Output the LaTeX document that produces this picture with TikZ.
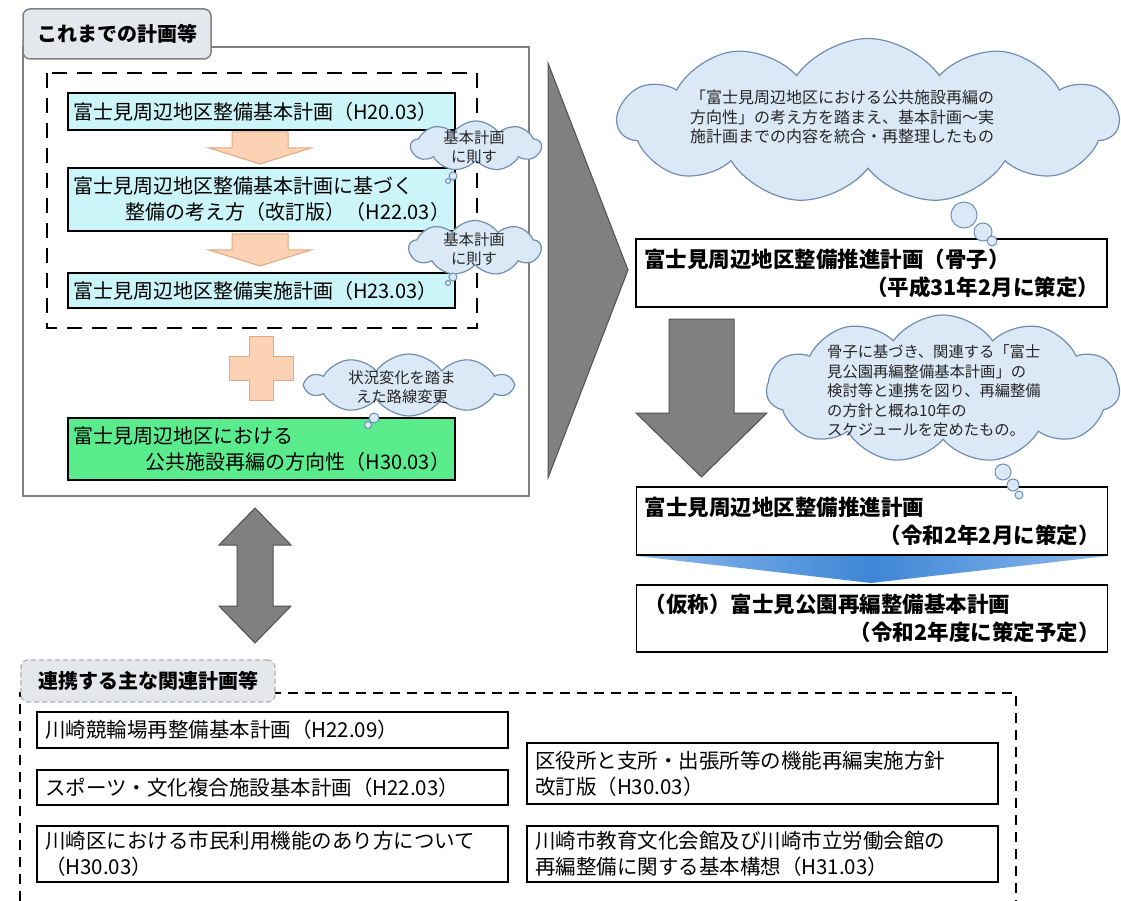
\documentclass[tikz,border=0pt]{standalone}
\usepackage{fontspec}
\newfontfamily\jp{Noto Sans CJK JP}
\usetikzlibrary{shapes.symbols}

\definecolor{cyanfill}{RGB}{204,245,250}
\definecolor{greenfill}{RGB}{90,235,140}
\definecolor{peachfill}{RGB}{251,211,180}
\definecolor{peachline}{RGB}{226,168,128}
\definecolor{cloudfill}{RGB}{219,232,246}
\definecolor{cloudline}{RGB}{112,142,176}
\definecolor{arrowgray}{RGB}{128,128,128}
\definecolor{arrowline}{RGB}{80,80,80}
\definecolor{tabfill}{RGB}{228,232,236}
\definecolor{framegray}{RGB}{128,128,128}
\definecolor{bluedark}{RGB}{62,134,214}
\definecolor{bluelight}{RGB}{140,185,235}

\begin{document}
\begin{tikzpicture}[x=1pt, y=-1pt,
  plan/.style = {draw, line width=1.3pt, inner xsep=5pt, inner ysep=0pt, align=left, text width=377pt, minimum width=387pt, font=\jp\fontsize{20}{26}\selectfont},
  newplan/.style = {draw, line width=1.5pt, fill=white, inner xsep=8pt, inner ysep=0pt, align=left, text width=455pt, minimum width=471pt, font=\jp\bfseries\fontsize{21.5}{28}\selectfont},
  related/.style = {draw, line width=1.3pt, inner xsep=8pt, inner ysep=0pt, align=left, text width=455pt, minimum width=471pt, font=\jp\fontsize{20.5}{26}\selectfont},
  memo/.style = {cloud, cloud puffs=10, cloud puff arc=110, cloud ignores aspect, draw=cloudline, fill=cloudfill, line width=1.2pt, inner sep=0pt},
  memotext/.style = {align=left, inner sep=0pt, text=black!85, font=\jp\fontsize{15.3}{19.5}\selectfont},
  bubble/.style = {circle, draw=cloudline, fill=cloudfill, line width=1pt, inner sep=0pt},
  tabbox/.style = {rounded corners=7pt, inner sep=0pt, fill=tabfill, font=\jp\bfseries\fontsize{20}{24}\selectfont},
  peach/.style = {draw=peachline, fill=peachfill, line width=1pt},
  grayarrow/.style = {draw=arrowline, fill=arrowgray, line width=1pt}]
	\fill[white] (0,0) rectangle (1121,901);
	\useasboundingbox (0,0) rectangle (1121,901);
	% plans so far
	\draw[framegray, line width=1.5pt] (23,47) rectangle (529,496);
	\node[tabbox, draw=framegray, line width=1.5pt, minimum width=188pt, minimum height=50pt] (tab1) at (117,34) {これまでの計画等};
	\draw[line width=2.5pt, dash pattern=on 15pt off 10pt] (47,73) rectangle (477,328);
	\node[plan, fill=cyanfill, minimum height=37pt] (p1) at (261.5,111.5) {富士見周辺地区整備基本計画（H20.03）};
	\node[plan, fill=cyanfill, minimum height=63pt] (p2) at (261.5,199.5) {富士見周辺地区整備基本計画に基づく\\\hspace*{\fill}整備の考え方（改訂版）（H22.03）};
	\node[plan, fill=cyanfill, minimum height=35pt] (p3) at (261.5,290.5) {富士見周辺地区整備実施計画（H23.03）};
	\node[plan, fill=greenfill, minimum height=62pt] (p4) at (261.5,449) {富士見周辺地区における\\\hspace*{\fill}公共施設再編の方向性（H30.03）};
	\draw[peach] (232,132) -- (288,132) -- (288,148) -- (311,148) -- (260,164) -- (209,148) -- (232,148) -- cycle;
	\draw[peach] (232,234) -- (288,234) -- (288,250) -- (311,250) -- (260,266) -- (209,250) -- (232,250) -- cycle;
	\draw[peach] (249,336) -- (273,336) -- (273,356) -- (293,356) -- (293,380) -- (273,380) -- (273,400) -- (249,400) -- (249,380) -- (229,380) -- (229,356) -- (249,356) -- cycle;
	% notes on the left
	\node[memo, cloud puffs=9, minimum width=130pt, minimum height=50pt] (c1) at (476,146) {};
	\node[memotext, align=center] (c1t) at (474,147) {基本計画\\に則す};
	\node[bubble, minimum size=8pt] (c1a) at (453,176) {};
	\node[bubble, minimum size=5pt] (c1b) at (448,181) {};
	\node[memo, cloud puffs=9, minimum width=132pt, minimum height=55pt] (c2) at (475,248) {};
	\node[memotext, align=center] (c2t) at (474,249) {基本計画\\に則す};
	\node[bubble, minimum size=8pt] (c2a) at (453,277) {};
	\node[bubble, minimum size=5pt] (c2b) at (448,283) {};
	\node[memo, minimum width=206pt, minimum height=62pt] (c3) at (409,385) {};
	\node[memotext, align=center] (c3t) at (402,387) {状況変化を踏ま\\えた路線変更};
	\node[bubble, minimum size=10pt] (c3a) at (374,418) {};
	\node[bubble, minimum size=7pt] (c3b) at (368,425) {};
	% towards the new plan
	\filldraw[grayarrow] (548,63) -- (628,270) -- (548,478) -- cycle;
	\node[memo, cloud puffs=11, minimum width=500pt, minimum height=165pt] (c4) at (868,121) {};
	\node[memotext, anchor=west, font=\jp\fontsize{16}{19.5}\selectfont] (c4t) at (690,117) {「富士見周辺地区における公共施設再編の\\方向性」の考え方を踏まえ、基本計画～実\\施計画までの内容を統合・再整理したもの};
	\node[newplan, minimum height=68pt] (n1) at (871.5,273) {富士見周辺地区整備推進計画（骨子）\\\hspace*{\fill}（平成31年2月に策定）};
	\node[bubble, minimum size=26pt] (c4a) at (964,215) {};
	\node[bubble, minimum size=18pt] (c4b) at (983,232) {};
	\node[bubble, minimum size=10pt] (c4c) at (992,241) {};
	\draw[grayarrow] (669,319) -- (734,319) -- (734,413) -- (767,413) -- (701.5,477) -- (636,413) -- (669,413) -- cycle;
	\node[memo, cloud puffs=11, minimum width=353pt, minimum height=148pt] (c5) at (943,389) {};
	\node[memotext, anchor=west] (c5t) at (827,391) {骨子に基づき、関連する「富士\\見公園再編整備基本計画」の\\検討等と連携を図り、再編整備\\の方針と概ね10年の\\スケジュールを定めたもの。};
	\node[newplan, minimum height=68pt] (n2) at (872,521) {富士見周辺地区整備推進計画\\\hspace*{\fill}（令和2年2月に策定）};
	\node[bubble, minimum size=16pt] (c5a) at (1003,472) {};
	\node[bubble, minimum size=12pt] (c5b) at (1013,485) {};
	\node[bubble, minimum size=8pt] (c5c) at (1019,495) {};
	\shade[left color=bluelight, right color=bluelight, middle color=bluedark] (637,556) -- (1107,556) -- (871,583) -- cycle;
	\node[newplan, minimum height=67pt] (n3) at (872,618.5) {（仮称）富士見公園再編整備基本計画\\\hspace*{\fill}（令和2年度に策定予定）};
	% related plans
	\draw[grayarrow] (255,508) -- (291,545) -- (273,545) -- (273,606) -- (291,606) -- (255,643) -- (219,606) -- (237,606) -- (237,545) -- (219,545) -- cycle;
	\draw[line width=2.2pt, dash pattern=on 10pt off 7pt] (20,901) -- (20,693) -- (1016,693) -- (1016,901);
	\node[tabbox, draw=gray!60, line width=1.2pt, dash pattern=on 5pt off 3pt, minimum width=254pt, minimum height=42pt] (tab2) at (148,681) {連携する主な関連計画等};
	\node[related, minimum height=36pt] (r1) at (272.5,730) {川崎競輪場再整備基本計画（H22.09）};
	\node[related, minimum height=35pt] (r2) at (272.5,787.5) {スポーツ・文化複合施設基本計画（H22.03）};
	\node[related, minimum height=56pt] (r3) at (272.5,854) {川崎区における市民利用機能のあり方について\\（H30.03）};
	\node[related, minimum height=61pt] (r4) at (762.5,773.5) {区役所と支所・出張所等の機能再編実施方針\\改訂版（H30.03）};
	\node[related, minimum height=56pt] (r5) at (762.5,854) {川崎市教育文化会館及び川崎市立労働会館の\\再編整備に関する基本構想（H31.03）};
\end{tikzpicture}
\end{document}
